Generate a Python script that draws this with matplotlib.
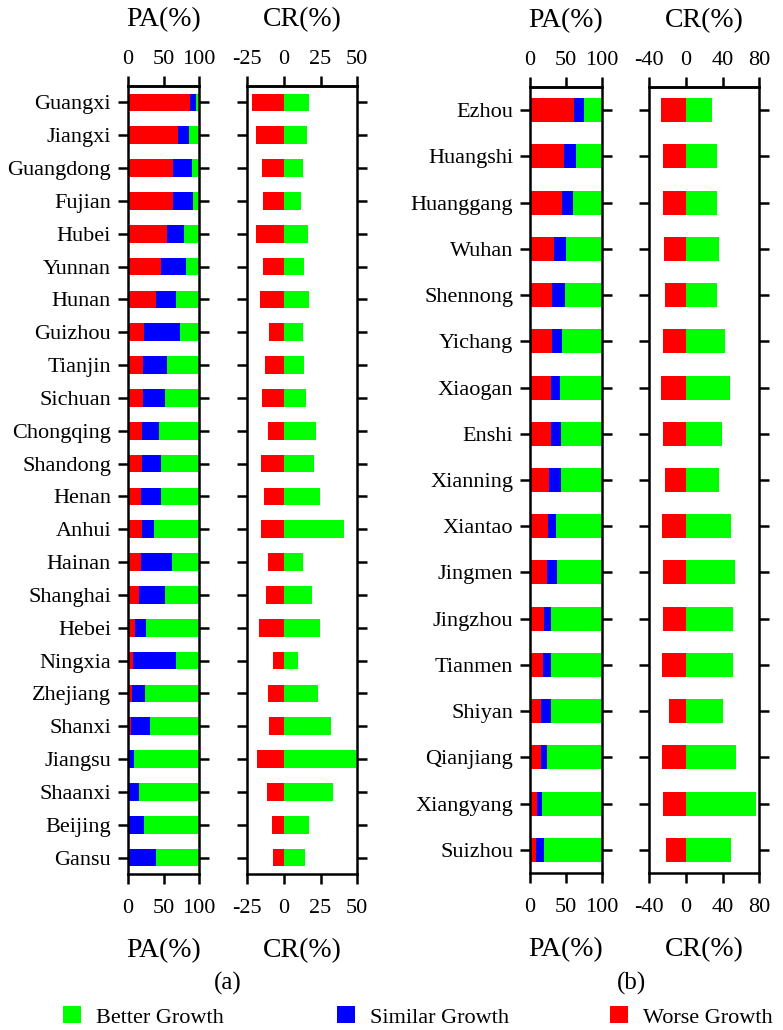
import matplotlib
matplotlib.use("Agg")
import matplotlib.pyplot as plt

plt.rcParams["font.family"] = ["Liberation Serif", "DejaVu Serif"]

# ---------------------------------------------------------------------------
# Data
# ---------------------------------------------------------------------------
provinces = ["Guangxi", "Jiangxi", "Guangdong", "Fujian", "Hubei", "Yunnan",
             "Hunan", "Guizhou", "Tianjin", "Sichuan", "Chongqing", "Shandong",
             "Henan", "Anhui", "Hainan", "Shanghai", "Hebei", "Ningxia",
             "Zhejiang", "Shanxi", "Jiangsu", "Shaanxi", "Beijing", "Gansu"]
prov_pa_worse = [87, 70, 64, 64, 55, 46, 39, 22, 21, 21, 20, 20,
                 19, 20, 18, 15, 10, 7, 5, 4, 2, 1, 0.5, 0]
prov_pa_similar = [9, 16, 26, 27, 24.5, 36, 28, 51, 34, 31, 24, 26,
                   27, 16, 43.5, 37, 15, 60, 19, 27, 6, 15, 21.5, 40]
prov_pa_better = [4, 14, 10, 9, 20.5, 18, 33, 27, 45, 48, 56, 54,
                  54, 64, 38.5, 48, 75, 33, 76, 69, 92, 84, 78, 60]
prov_cr_neg = [-21.7, -19.2, -14.9, -14.2, -19.2, -14.4, -16.2, -9.8, -12.8,
               -14.6, -10.8, -15.8, -13.7, -15.8, -10.8, -12.1, -16.7, -7.6,
               -10.8, -9.8, -18.1, -11.4, -8.2, -7.6]
prov_cr_pos = [17.2, 16, 13, 11.7, 16.2, 14, 16.9, 13, 13.7, 14.9, 22, 20.6,
               24.3, 41, 12.8, 19, 24.7, 9.8, 23, 32, 49.2, 33.4, 17.4, 14.4]

cities = ["Ezhou", "Huangshi", "Huanggang", "Wuhan", "Shennong", "Yichang",
          "Xiaogan", "Enshi", "Xianning", "Xiantao", "Jingmen", "Jingzhou",
          "Tianmen", "Shiyan", "Qianjiang", "Xiangyang", "Suizhou"]
city_pa_worse = [61.4, 47.9, 44.2, 34, 31.2, 30.7, 29.3, 28.8, 26.5,
                 25.1, 23.7, 19.5, 17.7, 14.9, 14.9, 9.8, 8.8]
city_pa_similar = [14.4, 16.3, 15.8, 15.8, 17.2, 14, 12.1, 14, 17.2,
                   11.2, 13.5, 10.3, 11.1, 14.9, 8.4, 6.9, 10.7]
city_pa_better = [24.2, 35.8, 40, 50.2, 51.6, 55.3, 58.6, 57.2, 56.3,
                  63.7, 62.8, 70.2, 71.2, 70.2, 76.7, 83.3, 80.5]
city_cr_neg = [-27.2, -25, -25, -24.2, -22.8, -24.6, -26.8, -25, -22.4,
               -26.4, -25.3, -24.6, -25.7, -18, -26.4, -25.3, -21.3]
city_cr_pos = [27.9, 33.8, 33.8, 36, 33.4, 42.9, 47.7, 38.9, 35.6,
               48.8, 53.6, 51, 51, 40, 54.7, 76, 49.5]

RED, BLUE, GREEN = "#ff0000", "#0000ff", "#00ff00"
W, H = 783, 1030
FS = 16
LW = 1.8


def px_axes(fig, left, right, top, bottom):
    return fig.add_axes([left / W, 1 - bottom / H, (right - left) / W, (bottom - top) / H])


def style(ax, n, xlim, xticks, label, ylabels=None):
    ax.set_ylim(n - 0.5, -0.5)
    ax.set_xlim(*xlim)
    ax.set_xticks(xticks)
    ax.set_xticklabels([str(t) for t in xticks])
    ax.set_yticks(range(n))
    if ylabels is not None:
        ax.set_yticklabels(ylabels)
    else:
        ax.set_yticklabels([])
    for sp in ax.spines.values():
        sp.set_linewidth(LW)
    ax.tick_params(axis="both", direction="out", length=7.2, width=LW,
                   labelsize=FS)
    ax.tick_params(axis="y", left=True, right=True, pad=5)
    ax.tick_params(axis="x", pad=11)
    ax.set_xlabel(label, fontsize=20, labelpad=14)
    # same scale repeated along the top edge
    sec = ax.secondary_xaxis("top")
    sec.set_xticks(xticks)
    sec.set_xticklabels([str(t) for t in xticks])
    sec.spines["top"].set_linewidth(LW)
    sec.tick_params(direction="out", length=7.2, width=LW, labelsize=FS, pad=5)
    sec.set_xlabel(label, fontsize=20, labelpad=17.5)


def pa_panel(ax, worse, similar, better, h):
    y = range(len(worse))
    left2 = [a + b for a, b in zip(worse, similar)]
    ax.barh(y, worse, height=h, color=RED, label="Worse Growth")
    ax.barh(y, similar, left=worse, height=h, color=BLUE, label="Similar Growth")
    ax.barh(y, better, left=left2, height=h, color=GREEN, label="Better Growth")


def cr_panel(ax, neg, pos, h):
    y = range(len(neg))
    ax.barh(y, neg, height=h, color=RED)
    ax.barh(y, pos, height=h, color=GREEN)


fig = plt.figure(figsize=(W / 100, H / 100), dpi=100)

ax1 = px_axes(fig, 128, 199, 86, 874)
ax2 = px_axes(fig, 247, 357.3, 86, 874)
ax3 = px_axes(fig, 530, 601.7, 87, 873)
ax4 = px_axes(fig, 649.3, 759.3, 87, 873)

pa_panel(ax1, prov_pa_worse, prov_pa_similar, prov_pa_better, 0.54)
cr_panel(ax2, prov_cr_neg, prov_cr_pos, 0.54)
pa_panel(ax3, city_pa_worse, city_pa_similar, city_pa_better, 0.52)
cr_panel(ax4, city_cr_neg, city_cr_pos, 0.52)

style(ax1, len(provinces), (0, 100), [0, 50, 100], "PA(%)", provinces)
style(ax2, len(provinces), (-25, 50), [-25, 0, 25, 50], "CR(%)")
style(ax3, len(cities), (0, 100), [0, 50, 100], "PA(%)", cities)
style(ax4, len(cities), (-40, 80), [-40, 0, 40, 80], "CR(%)")

fig.text(228 / W, 1 - 983 / H, "(a)", ha="center", va="center", fontsize=18)
fig.text(632 / W, 1 - 983 / H, "(b)", ha="center", va="center", fontsize=18)

# one legend entry per position, as in the figure
handles = {lab: hd for hd, lab in zip(*ax1.get_legend_handles_labels())}
for lab, x0 in [("Better Growth", 63), ("Similar Growth", 337), ("Worse Growth", 610)]:
    fig.legend(handles=[handles[lab]], labels=[lab], loc="center left",
               bbox_to_anchor=(x0 / W, 1 - 1017 / H), frameon=False,
               borderpad=0, borderaxespad=0, handlelength=0.8, handleheight=0.8,
               handletextpad=0.7, fontsize=FS)

fig.savefig("out.png", dpi=100)
